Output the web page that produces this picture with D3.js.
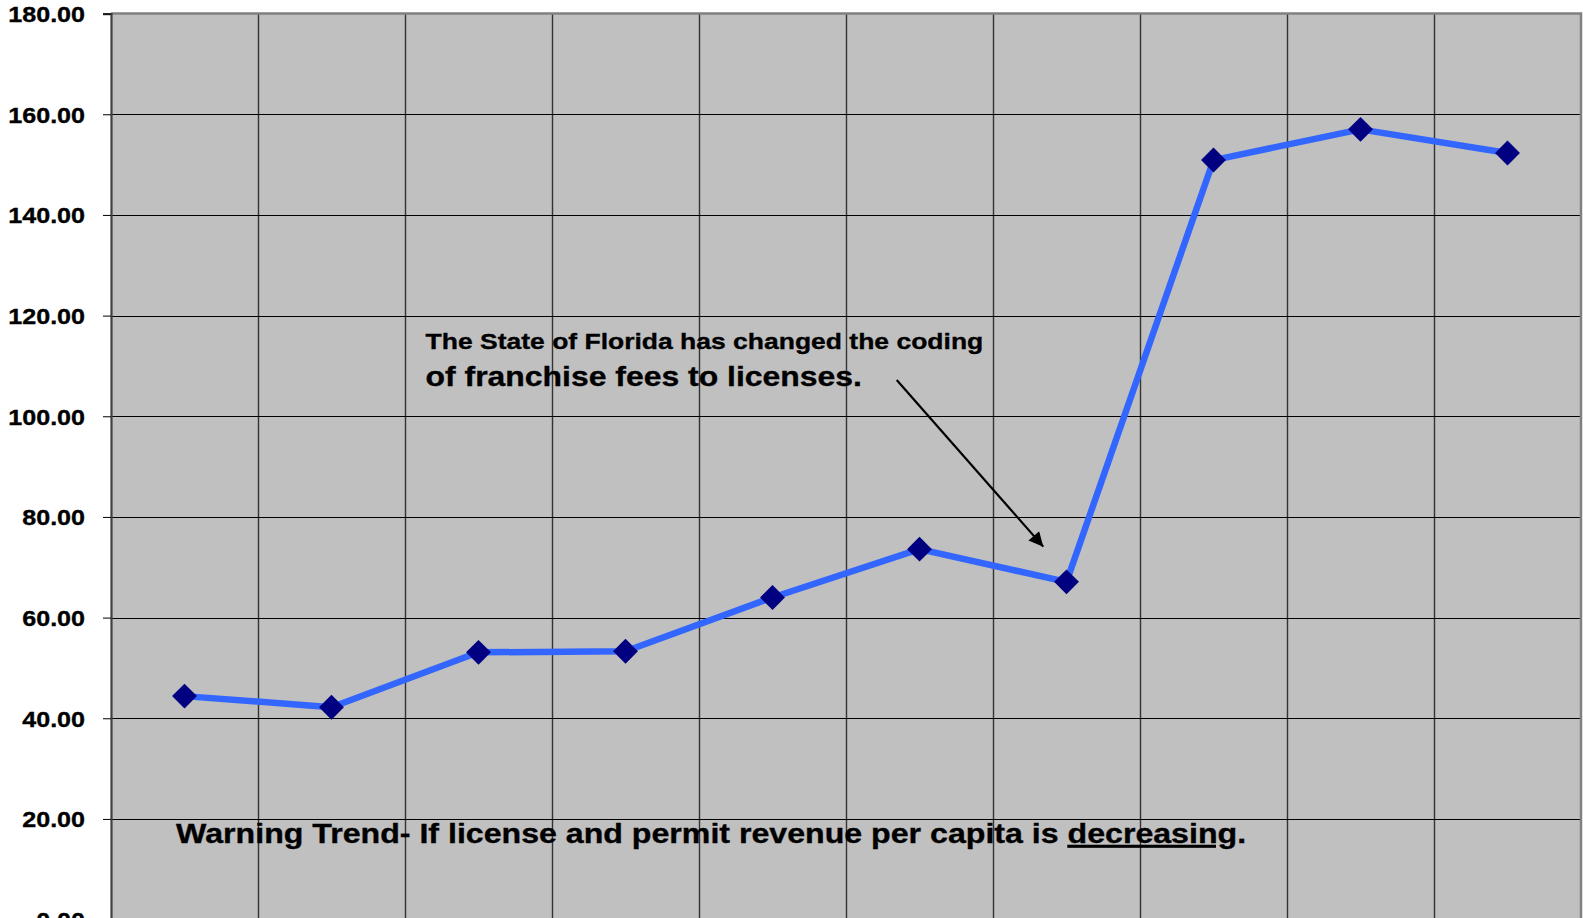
<!DOCTYPE html>
<html>
<head>
<meta charset="utf-8">
<script src="https://cdn.jsdelivr.net/npm/d3@7"></script>
<style>
  html, body { margin: 0; padding: 0; background: #ffffff; }
  svg { display: block; }
  text { font-family: "Liberation Sans", Arial, sans-serif; font-weight: bold; fill: #000; stroke: #000; stroke-width: 0.35px; }
</style>
</head>
<body>
<svg id="chart" width="1583" height="918"></svg>
<script>
// License and permit revenue per capita, ten reporting years
const categories = ["1", "2", "3", "4", "5", "6", "7", "8", "9", "10"];
const revenuePerCapita = [44.4, 42.2, 53.1, 53.3, 64.0, 73.6, 67.1, 150.9, 157.0, 152.3];
const yTicks = [0, 20, 40, 60, 80, 100, 120, 140, 160, 180];

const noteLine1 = "The State of Florida has changed the coding";
const noteLine2 = "of franchise fees to licenses.";
const warningLead = "Warning Trend- If license and permit revenue per capita is ";
const warningKey = "decreasing";
const warningTail = ".";

const svg = d3.select("#chart");
const plot = { left: 111, right: 1581, top: 13.6, bottom: 919.6 };
const stretch = 1.14; // text is drawn slightly widened

const x = d3.scaleBand().domain(categories).range([plot.left, plot.right]).paddingInner(0).paddingOuter(0);
const xPos = d3.scaleLinear().domain([0, categories.length]).range([plot.left, plot.right]);
const y = d3.scaleLinear().domain([0, 180]).range([plot.bottom, plot.top]);

// plot background
svg.append("rect")
  .attr("x", plot.left).attr("y", plot.top)
  .attr("width", plot.right - plot.left).attr("height", plot.bottom - plot.top)
  .attr("fill", "#c0c0c0");

// vertical grid at category boundaries
svg.append("g").selectAll("line")
  .data(categories.slice(1))
  .join("line")
  .attr("x1", d => Math.round(x(d)) + 0.5).attr("x2", d => Math.round(x(d)) + 0.5)
  .attr("y1", plot.top).attr("y2", plot.bottom)
  .attr("stroke", "#333").attr("stroke-width", 1.4);

// horizontal grid
svg.append("g").selectAll("line")
  .data(yTicks.filter(v => v > 0 && v < 180))
  .join("line")
  .attr("x1", plot.left).attr("x2", plot.right)
  .attr("y1", d => Math.round(y(d)) + 0.5).attr("y2", d => Math.round(y(d)) + 0.5)
  .attr("stroke", "#000").attr("stroke-width", 1);

// plot border (top / right)
svg.append("path")
  .attr("d", `M${plot.left},${plot.top} H${plot.right} V${plot.bottom}`)
  .attr("fill", "none").attr("stroke", "#808080").attr("stroke-width", 2.5);

// y axis with ticks and labels
const yAxis = d3.axisLeft(y).tickValues(yTicks).tickSize(8).tickPadding(18)
  .tickFormat(d3.format(".2f"));
const gy = svg.append("g").attr("transform", `translate(${plot.left},0)`).call(yAxis);
gy.select(".domain").attr("stroke", "#404040").attr("stroke-width", 2.2);
gy.selectAll(".tick line").attr("stroke", "#000");
gy.selectAll(".tick text")
  .attr("font-size", 22).attr("font-family", "Liberation Sans, Arial, sans-serif")
  .attr("font-weight", "bold").attr("fill", "#000")
  .attr("dy", "0.36em")
  .attr("transform", function() {
    const tx = +d3.select(this).attr("x");
    return `translate(${tx * (1 - stretch)},0) scale(${stretch},1)`;
  });

// series line
const line = d3.line()
  .x((d, i) => x(categories[i]) + x.bandwidth() / 2)
  .y(d => y(d));
svg.append("path")
  .datum(revenuePerCapita)
  .attr("d", line)
  .attr("fill", "none")
  .attr("stroke", "#3366ff")
  .attr("stroke-width", 6.5)
  .attr("stroke-linejoin", "round");

// diamond markers
const diamond = d3.symbol().type(d3.symbolSquare).size(310);
svg.append("g").selectAll("path")
  .data(revenuePerCapita)
  .join("path")
  .attr("d", diamond)
  .attr("transform", (d, i) => `translate(${x(categories[i]) + x.bandwidth() / 2},${y(d)}) rotate(45)`)
  .attr("fill", "#000080");

// annotation note
function stretchedText(px, py, size, k) {
  return svg.append("g").attr("transform", `translate(${px},${py}) scale(${k || stretch},1)`)
    .append("text").attr("font-size", size);
}
stretchedText(xPos(2.14), y(113.3), 23, 1.152).text(noteLine1);
stretchedText(xPos(2.14), y(106.1), 28).text(noteLine2);

// annotation arrow
svg.append("defs").append("marker")
  .attr("id", "arrowHead")
  .attr("viewBox", "0 0 10 10").attr("refX", 10).attr("refY", 5)
  .attr("markerWidth", 8).attr("markerHeight", 6.5)
  .attr("markerUnits", "strokeWidth")
  .attr("orient", "auto")
  .append("path").attr("d", "M0,0 L10,5 L0,10 Z").attr("fill", "#000");
svg.append("line")
  .attr("x1", xPos(5.345)).attr("y1", y(107.2))
  .attr("x2", xPos(6.342)).attr("y2", y(74.1))
  .attr("stroke", "#000").attr("stroke-width", 2.2)
  .attr("marker-end", "url(#arrowHead)");

// warning caption
const warn = stretchedText(xPos(0.443), y(15.2), 28, 1.148);
warn.append("tspan").text(warningLead);
warn.append("tspan").attr("text-decoration", "underline").text(warningKey);
warn.append("tspan").text(warningTail);
</script>
</body>
</html>
